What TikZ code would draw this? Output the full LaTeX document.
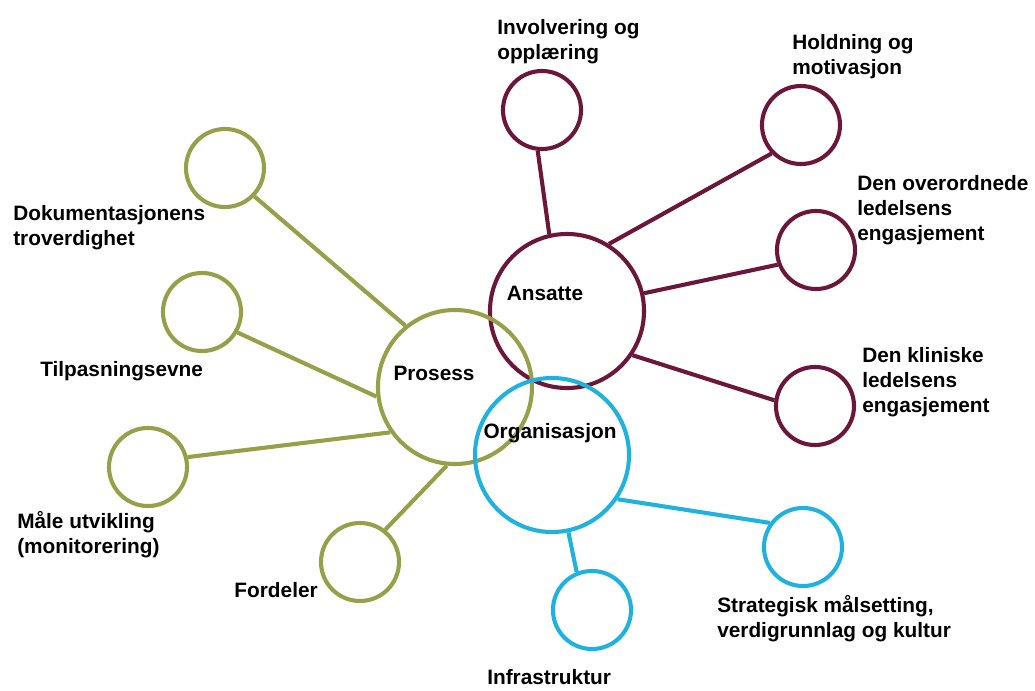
\documentclass[tikz,border=0pt]{standalone}
\usepackage{fontspec}
\setmainfont{Liberation Sans}
\definecolor{ansred}{RGB}{108,22,58}
\definecolor{prosgreen}{RGB}{150,160,72}
\definecolor{orgblue}{RGB}{32,178,222}

\begin{document}
\begin{tikzpicture}[x=0.025cm,y=-0.025cm,
    big/.style={circle,draw,line width=2.9pt,minimum size=3.85cm,inner sep=0pt},
    small/.style={circle,draw,line width=2.9pt,minimum size=1.95cm,inner sep=0pt},
    lbl/.style={font=\bfseries\fontsize{14.8}{17.8}\selectfont,align=left,inner sep=0pt},
    link/.style={line width=2.9pt}]
        \fill[white] (0,0) rectangle (1035,691);
        \useasboundingbox (0,0) rectangle (1035,691);
        % the three main circles
        \node[big,ansred] (ans) at (567,311) {};
        \node[big,prosgreen] (pros) at (455,387) {};
        \node[big,orgblue] (org) at (552,455) {};
        \node[lbl] (tans) at (545,293) {Ansatte};
        \node[lbl] (tpros) at (434,373) {Prosess};
        \node[lbl] (torg) at (550,433) {Organisasjon};
        % Ansatte
        \node[small,ansred] (inv) at (542,110) {};
        \node[small,ansred] (hold) at (801,125) {};
        \node[small,ansred] (over) at (816,250) {};
        \node[small,ansred] (klin) at (815,406) {};
        \draw[link,ansred] (ans.103) -- (inv.264);
        \draw[link,ansred] (ans.58) -- (hold.224);
        \draw[link,ansred] (ans.13) -- (over.201);
        \draw[link,ansred] (ans.326) -- (klin.172);
        \node[lbl,anchor=west] (tinv) at (497,42) {Involvering og\\opplæring};
        \node[lbl,anchor=west] (thold) at (792,57) {Holdning og\\motivasjon};
        \node[lbl,anchor=west] (tover) at (857,210) {Den overordnede\\ledelsens\\engasjement};
        \node[lbl,anchor=west] (tklin) at (862,382) {Den kliniske\\ledelsens\\engasjement};
        % Prosess
        \node[small,prosgreen] (dok) at (225,168) {};
        \node[small,prosgreen] (tilp) at (202,312) {};
        \node[small,prosgreen] (maal) at (148,467) {};
        \node[small,prosgreen] (ford) at (360,562) {};
        \draw[link,prosgreen] (pros.129) -- (dok.316);
        \draw[link,prosgreen] (pros.187) -- (tilp.330);
        \draw[link,prosgreen] (pros.215) -- (maal.14);
        \draw[link,prosgreen] (pros.264) -- (ford.52);
        \node[lbl,anchor=west] (tdok) at (13,228) {Dokumentasjonens\\troverdighet};
        \node[lbl,anchor=west] (ttilp) at (40,371) {Tilpasningsevne};
        \node[lbl,anchor=west] (tmaal) at (17,535) {Måle utvikling\\(monitorering)};
        \node[lbl,anchor=east] (tford) at (318,590) {Fordeler};
        % Organisasjon
        \node[small,orgblue] (infra) at (592,610) {};
        \node[small,orgblue] (strat) at (803,547) {};
        \draw[link,orgblue] (org.282) -- (infra.112);
        \draw[link,orgblue] (org.326) -- (strat.144);
        \node[lbl,anchor=west] (tinfra) at (487,677) {Infrastruktur};
        \node[lbl,anchor=west] (tstrat) at (717,619) {Strategisk målsetting,\\verdigrunnlag og kultur};
\end{tikzpicture}
\end{document}
